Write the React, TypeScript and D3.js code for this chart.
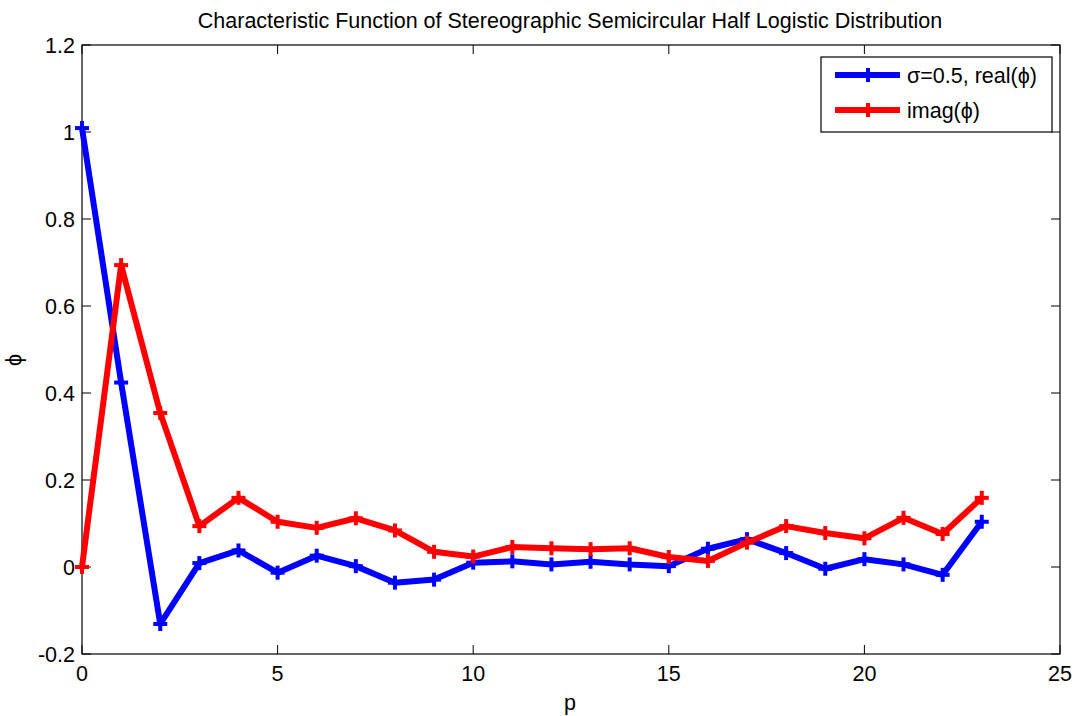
import React from 'react';
import * as d3 from 'd3';

// p values on the x axis
const pValues = [0, 1, 2, 3, 4, 5, 6, 7, 8, 9, 10, 11, 12, 13, 14, 15, 16, 17, 18, 19, 20, 21, 22, 23];

// real part, sigma = 0.5
const realPhi = [1.009, 0.424, -0.131, 0.009, 0.038, -0.013, 0.026, 0.002, -0.036, -0.029, 0.01, 0.013, 0.006, 0.012, 0.006, 0.002, 0.042, 0.064, 0.032, -0.004, 0.018, 0.006, -0.018, 0.104];

// imaginary part
const imagPhi = [0, 0.694, 0.354, 0.094, 0.159, 0.104, 0.09, 0.112, 0.084, 0.035, 0.024, 0.046, 0.043, 0.041, 0.043, 0.023, 0.014, 0.056, 0.094, 0.078, 0.066, 0.113, 0.076, 0.159];

const xTicks = [0, 5, 10, 15, 20, 25];
const yTicks = [-0.2, 0, 0.2, 0.4, 0.6, 0.8, 1, 1.2];
const yTickLabels = ['-0.2', '0', '0.2', '0.4', '0.6', '0.8', '1', '1.2'];

const seriesNames = ['σ=0.5, real(ϕ)', 'imag(ϕ)'];
const seriesColors = ['#0000ff', '#ff0000'];

const App = () => {
  const width = 1075;
  const height = 716;
  const left = 82, right = 1060, top = 45, bottom = 654;

  const x = d3.scaleLinear().domain([0, 25]).range([left, right]);
  const y = d3.scaleLinear().domain([-0.2, 1.2]).range([bottom, top]);

  const line = d3.line<number>()
    .x((d, i) => x(pValues[i]))
    .y(d => y(d));

  const series = [realPhi, imagPhi];
  const font = 'Liberation Sans, Arial, sans-serif';
  const fs = 21.5;

  const plus = (cx: number, cy: number, color: string, key: any) => (
    <g key={key} stroke={color} strokeWidth={4}>
      <line x1={cx - 7} x2={cx + 7} y1={cy} y2={cy} />
      <line x1={cx} x2={cx} y1={cy - 7} y2={cy + 7} />
    </g>
  );

  return (
    <svg width={width} height={height} style={{ position: 'absolute', left: 0, top: 0, background: '#fff' }}>
      <rect x={0} y={0} width={width} height={height} fill="#fff" />
      {/* axes box */}
      <rect x={left} y={top} width={right - left} height={bottom - top} fill="none" stroke="#000" strokeWidth={1.2} />

      {/* ticks, MATLAB style: inside on all sides */}
      {xTicks.map(t => (
        <g key={'xt' + t}>
          <line x1={x(t)} x2={x(t)} y1={bottom} y2={bottom - 9} stroke="#000" />
          <line x1={x(t)} x2={x(t)} y1={top} y2={top + 9} stroke="#000" />
          <text x={x(t)} y={bottom + 27} textAnchor="middle" fontFamily={font} fontSize={fs}>{t}</text>
        </g>
      ))}
      {yTicks.map((t, i) => (
        <g key={'yt' + t}>
          <line x1={left} x2={left + 9} y1={y(t)} y2={y(t)} stroke="#000" />
          <line x1={right} x2={right - 9} y1={y(t)} y2={y(t)} stroke="#000" />
          <text x={left - 7} y={y(t) + 7.5} textAnchor="end" fontFamily={font} fontSize={fs}>{yTickLabels[i]}</text>
        </g>
      ))}

      {/* lines */}
      {series.map((s, k) => (
        <g key={'s' + k}>
          <path d={line(s) || ''} fill="none" stroke={seriesColors[k]} strokeWidth={6} strokeLinejoin="round" />
          {s.map((v, i) => plus(x(pValues[i]), y(v), seriesColors[k], i))}
        </g>
      ))}

      {/* title and labels */}
      <text x={570} y={28} textAnchor="middle" fontFamily={font} fontSize={fs}>
        Characteristic Function of Stereographic Semicircular Half Logistic Distribution
      </text>
      <text x={570} y={710} textAnchor="middle" fontFamily={font} fontSize={fs}>p</text>
      <text transform="translate(21,360) rotate(-90)" textAnchor="middle" fontFamily={font} fontSize={fs}>ϕ</text>

      {/* legend */}
      <rect x={821} y={57} width={231} height={75} fill="#fff" stroke="#000" strokeWidth={1.2} />
      {seriesNames.map((name, k) => {
        const ly = 75 + k * 35;
        return (
          <g key={'lg' + k}>
            <line x1={835} x2={900} y1={ly} y2={ly} stroke={seriesColors[k]} strokeWidth={6} />
            {plus(868, ly, seriesColors[k], 'm' + k)}
            <text x={907} y={ly + 8} fontFamily={font} fontSize={fs}>{name}</text>
          </g>
        );
      })}
    </svg>
  );
};

export default App;
